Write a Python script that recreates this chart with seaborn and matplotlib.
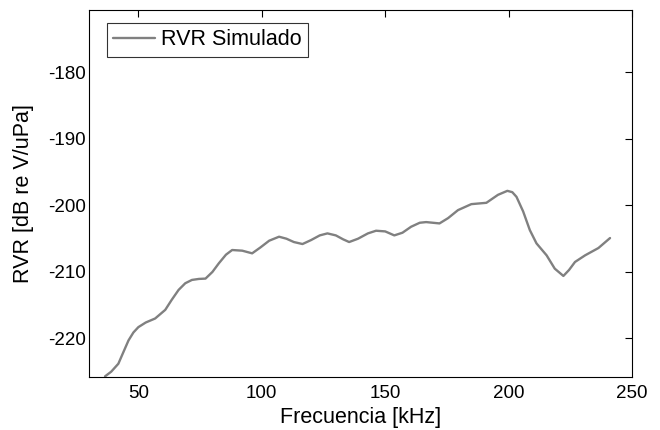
import matplotlib
matplotlib.use("Agg")
import matplotlib.pyplot as plt
import seaborn as sns
import pandas as pd

freq_khz = [36.5, 39.0, 41.9, 44.0, 46.0, 48.0, 50.0, 53.0, 56.8, 60.9, 63.5, 66.3, 69.0,
            71.7, 74.5, 77.2, 80.0, 82.6, 85.5, 88.0, 92.1, 96.1, 99.5, 103.0, 107.0,
            110.0, 113.0, 116.5, 120.0, 123.5, 126.6, 130.0, 133.0, 135.4, 139.0, 143.0,
            146.3, 150.0, 153.7, 157.0, 160.5, 164.0, 166.6, 172.0, 175.5, 179.5, 184.9,
            191.0, 195.7, 199.5, 201.5, 203.2, 205.9, 208.6, 211.3, 215.4, 218.7, 222.2,
            224.5, 226.9, 231.0, 236.4, 241.1]
rvr_db = [-225.7, -225.0, -223.8, -222.0, -220.3, -219.1, -218.3, -217.6, -217.0, -215.7,
          -214.2, -212.7, -211.7, -211.2, -211.05, -211.0, -210.0, -208.7, -207.4, -206.7,
          -206.8, -207.2, -206.3, -205.3, -204.7, -205.0, -205.5, -205.8, -205.2, -204.5,
          -204.2, -204.5, -205.1, -205.5, -205.0, -204.2, -203.8, -203.9, -204.5, -204.1,
          -203.2, -202.6, -202.5, -202.7, -201.9, -200.7, -199.8, -199.6, -198.4, -197.8,
          -198.0, -198.7, -200.9, -203.7, -205.7, -207.5, -209.5, -210.6, -209.7, -208.5,
          -207.5, -206.4, -204.9]
series_label = "RVR Simulado"
x_label = "Frecuencia [kHz]"
y_label = "RVR [dB re V/uPa]"
x_ticks = [50, 100, 150, 200, 250]
y_ticks = [-220, -210, -200, -190, -180]

sns.set_theme(style="white")
plt.rcParams["font.family"] = ["Liberation Sans", "DejaVu Sans"]
plt.rcParams["axes.unicode_minus"] = False
plt.rcParams["text.color"] = "black"
plt.rcParams["axes.labelcolor"] = "black"

df = pd.DataFrame({"f": freq_khz, "rvr": rvr_db, "s": series_label})

fig = plt.figure(figsize=(6.6, 4.3), dpi=100)
ax = fig.add_axes([89/660, 1 - 377/430, (632 - 89)/660, (377 - 10)/430])
sns.lineplot(data=df, x="f", y="rvr", hue="s", palette=["#808080"], linewidth=1.7,
             ax=ax, sort=False)

ax.set_xlim(30, 250)
ax.set_ylim(-225.8, -170.6)
ax.set_xticks(x_ticks)
ax.set_yticks(y_ticks)
ax.tick_params(direction="in", length=5, width=0.8, top=True, right=True,
               labelsize=13.5, colors="black")
ax.tick_params(axis="x", pad=6)
ax.tick_params(axis="y", pad=2)
for side in ["left", "bottom", "top", "right"]:
    ax.spines[side].set_visible(True)
    ax.spines[side].set_color("black")
    ax.spines[side].set_linewidth(0.8)
ax.set_xlabel(x_label, fontsize=15.5, labelpad=3.5, color="black")
ax.set_ylabel(y_label, fontsize=15.5, labelpad=10, color="black")

leg = ax.legend(loc="upper left", bbox_to_anchor=(0.033, 0.9646), fontsize=15.5,
                frameon=True, fancybox=False, handlelength=1.95, handletextpad=0.25,
                borderpad=0.3, borderaxespad=0.0)
leg.get_frame().set_edgecolor("black")
leg.get_frame().set_linewidth(0.8)
for t in leg.get_texts():
    t.set_color("black")

fig.savefig("out.png", dpi=100, facecolor="white")
